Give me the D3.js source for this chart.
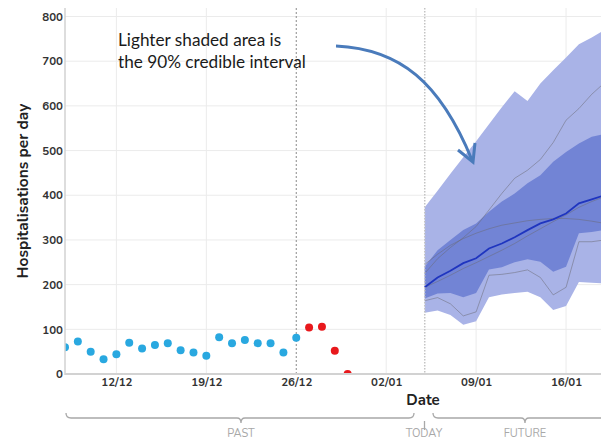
<!DOCTYPE html>
<html>
<head>
<meta charset="utf-8">
<script src="https://cdn.jsdelivr.net/npm/d3@7"></script>
<style>
  html, body { margin: 0; padding: 0; background: #fff; }
  svg { display: block; }
</style>
</head>
<body>
<svg id="chart" width="601" height="441"></svg>
<script>
// ---------------- DATA ----------------
const pastDates = ["2021-12-08","2021-12-09","2021-12-10","2021-12-11","2021-12-12","2021-12-13","2021-12-14",
  "2021-12-15","2021-12-16","2021-12-17","2021-12-18","2021-12-19","2021-12-20","2021-12-21","2021-12-22",
  "2021-12-23","2021-12-24","2021-12-25","2021-12-26"];
const pastValues = [60, 73, 50, 33, 44, 70, 57, 65, 69, 53, 48, 41, 82, 69, 76, 69, 69, 48, 81];

const recentDates = ["2021-12-27","2021-12-28","2021-12-29","2021-12-30"];
const recentValues = [104, 106, 52, 0];

const forecastDates = ["2022-01-05","2022-01-06","2022-01-07","2022-01-08","2022-01-09","2022-01-10","2022-01-11",
  "2022-01-12","2022-01-13","2022-01-14","2022-01-15","2022-01-16","2022-01-17","2022-01-18","2022-01-19"];
const upper90 = [373, 410, 448, 485, 521, 559, 597, 633, 611, 650, 680, 708, 738, 753, 770];
const lower90 = [137, 142, 132, 110, 118, 172, 178, 181, 184, 172, 143, 152, 206, 204, 203];
const upper50 = [240, 277, 300, 322, 337, 363, 386, 404, 427, 445, 475, 497, 516, 531, 537];
const lower50 = [169, 180, 181, 172, 181, 234, 239, 250, 257, 251, 229, 240, 315, 318, 322];
const median  = [194, 216, 231, 248, 259, 281, 292, 306, 322, 337, 346, 359, 382, 391, 400];
const sampleA = [225, 258, 283, 305, 330, 367, 404, 438, 456, 480, 518, 568, 594, 626, 652];
const sampleB = [245, 268, 288, 303, 315, 325, 333, 338, 343, 346, 348, 348, 346, 342, 337];
const sampleC = [194, 207, 221, 236, 249, 263, 277, 292, 309, 325, 341, 356, 373, 386, 397];
const sampleD = [164, 171, 157, 130, 139, 221, 223, 227, 233, 216, 177, 194, 296, 296, 300];

const yTicks = [0, 100, 200, 300, 400, 500, 600, 700, 800];
const xTickDates = ["2021-12-12","2021-12-19","2021-12-26","2022-01-02","2022-01-09","2022-01-16"];
const dataCutDate = "2021-12-26";
const todayDate = "2022-01-05";
const domainDates = ["2021-12-08","2022-01-19"];

const annotationLines = ["Lighter shaded area is", "the 90% credible interval"];
const yLabel = "Hospitalisations per day";
const xLabel = "Date";
const periodLabels = ["PAST", "TODAY", "FUTURE"];

// ---------------- SETUP ----------------
const parse = d3.timeParse("%Y-%m-%d");
const svg = d3.select("#chart");
const plotLeft = 65, plotRight = 601, plotTop = 8, plotBottom = 374;

const x = d3.scaleTime()
  .domain(domainDates.map(parse))
  .range([65, 604.6]);
const y = d3.scaleLinear().domain([0, 800]).range([374, 16.5]);

const tickFont = "Nunito, Lato, 'Open Sans', sans-serif";

// clip
svg.append("defs").append("clipPath").attr("id", "plotclip")
  .append("rect").attr("x", plotLeft).attr("y", plotTop)
  .attr("width", plotRight - plotLeft).attr("height", plotBottom - plotTop);

// grid
const grid = svg.append("g");
grid.selectAll("line.h").data(yTicks.filter(v => v > 0)).join("line")
  .attr("x1", plotLeft).attr("x2", plotRight)
  .attr("y1", d => y(d)).attr("y2", d => y(d))
  .attr("stroke", "#ebebeb").attr("stroke-width", 1);
grid.selectAll("line.v").data(xTickDates.filter(d => d !== dataCutDate)).join("line")
  .attr("x1", d => x(parse(d))).attr("x2", d => x(parse(d)))
  .attr("y1", plotTop).attr("y2", plotBottom)
  .attr("stroke", "#ebebeb").attr("stroke-width", 1);

// forecast
const fData = forecastDates.map((d, i) => ({
  date: parse(d), u90: upper90[i], l90: lower90[i], u50: upper50[i], l50: lower50[i],
  med: median[i], a: sampleA[i], b: sampleB[i], c: sampleC[i], dd: sampleD[i]
}));
const fg = svg.append("g").attr("clip-path", "url(#plotclip)");
fg.append("path").datum(fData)
  .attr("d", d3.area().x(d => x(d.date)).y0(d => y(d.l90)).y1(d => y(d.u90)))
  .attr("fill", "#a9b3e7");
fg.append("path").datum(fData)
  .attr("d", d3.area().x(d => x(d.date)).y0(d => y(d.l50)).y1(d => y(d.u50)))
  .attr("fill", "#7284d5");
["a", "b", "c", "dd"].forEach(k => {
  fg.append("path").datum(fData)
    .attr("d", d3.line().x(d => x(d.date)).y(d => y(d[k])))
    .attr("fill", "none").attr("stroke", "rgba(105,105,115,0.5)").attr("stroke-width", 1);
});
fg.append("path").datum(fData)
  .attr("d", d3.line().x(d => x(d.date)).y(d => y(d.med)))
  .attr("fill", "none").attr("stroke", "#1f35bf").attr("stroke-width", 1.8);

// vertical reference lines
svg.append("line")
  .attr("x1", x(parse(dataCutDate))).attr("x2", x(parse(dataCutDate)))
  .attr("y1", plotTop).attr("y2", plotBottom)
  .attr("stroke", "#8a8a8a").attr("stroke-width", 1).attr("stroke-dasharray", "2,2");
svg.append("line")
  .attr("x1", x(parse(todayDate))).attr("x2", x(parse(todayDate)))
  .attr("y1", plotTop).attr("y2", plotBottom)
  .attr("stroke", "#c4c4c4").attr("stroke-width", 1.5).attr("stroke-dasharray", "1.5,1.5");

// points
const pg = svg.append("g").attr("clip-path", "url(#plotclip)");
pg.selectAll("circle.past").data(pastDates.map((d, i) => ({ date: parse(d), v: pastValues[i] })))
  .join("circle").attr("cx", d => x(d.date)).attr("cy", d => y(d.v)).attr("r", 4)
  .attr("fill", "#29a8e0");
pg.selectAll("circle.recent").data(recentDates.map((d, i) => ({ date: parse(d), v: recentValues[i] })))
  .join("circle").attr("cx", d => x(d.date)).attr("cy", d => y(d.v)).attr("r", 4)
  .attr("fill", "#e8181c");

// axes lines
svg.append("line").attr("x1", plotLeft).attr("x2", plotLeft).attr("y1", plotTop).attr("y2", plotBottom + 1)
  .attr("stroke", "#d2d2d2").attr("stroke-width", 1.5);
svg.append("line").attr("x1", plotLeft).attr("x2", plotRight).attr("y1", plotBottom).attr("y2", plotBottom)
  .attr("stroke", "#d2d2d2").attr("stroke-width", 2);

// y axis
const yAxis = svg.append("g").attr("transform", `translate(${plotLeft - 2},0)`)
  .call(d3.axisLeft(y).tickValues(yTicks).tickSize(0).tickPadding(0).tickFormat(d3.format("d")));
yAxis.select(".domain").remove();
yAxis.selectAll("text").attr("font-family", tickFont).attr("font-weight", 700)
  .attr("font-size", 11.5).attr("fill", "#333");

// x axis
const xAxis = svg.append("g").attr("transform", `translate(0,${plotBottom + 3.5})`)
  .call(d3.axisBottom(x).tickValues(xTickDates.map(parse)).tickSize(0).tickPadding(0)
    .tickFormat(d3.timeFormat("%d/%m")));
xAxis.select(".domain").remove();
xAxis.selectAll("text").attr("font-family", tickFont).attr("font-weight", 700)
  .attr("font-size", 11.5).attr("fill", "#333");

// axis titles
svg.append("text").attr("transform", "translate(28,191) rotate(-90)")
  .attr("text-anchor", "middle").attr("font-family", tickFont).attr("font-weight", 700)
  .attr("font-size", 15.5).attr("fill", "#222").text(yLabel);
svg.append("text").attr("x", 423).attr("y", 405).attr("text-anchor", "middle")
  .attr("font-family", tickFont).attr("font-weight", 700).attr("font-size", 15)
  .attr("fill", "#222").text(xLabel);

// period brackets
const br = svg.append("g").attr("fill", "none").attr("stroke", "#a8a8a8").attr("stroke-width", 1.3);
br.append("path").attr("d", "M66,413 Q66,418 71,418 L237,418 Q241,418 241,423 Q241,418 245,418 L409,418 Q414,418 414,413");
br.append("path").attr("d", "M433,413 Q433,418 438,418 L521,418 Q525,418 525,423 Q525,418 529,418 L605,418");
br.append("line").attr("x1", 424.5).attr("x2", 424.5).attr("y1", 421).attr("y2", 430);
const pl = svg.append("g").attr("font-family", tickFont).attr("font-size", 11)
  .attr("fill", "#a8a8a8").attr("text-anchor", "middle");
pl.append("text").attr("x", 241).attr("y", 437).text(periodLabels[0]);
pl.append("text").attr("x", 424).attr("y", 437).text(periodLabels[1]);
pl.append("text").attr("x", 525).attr("y", 437).text(periodLabels[2]);

// annotation
const ann = svg.append("g").attr("font-family", "Lato, 'Open Sans', sans-serif")
  .attr("font-size", 16).attr("fill", "#1a1a1a");
const t1 = ann.append("text").attr("x", 118).attr("y", 46).text(annotationLines[0]);
const t2 = ann.append("text").attr("x", 118).attr("y", 68).text(annotationLines[1]);
const w2 = t2.node().getComputedTextLength();
const fs = 16 * 188 / w2;
ann.attr("font-size", fs);

svg.append("path").attr("d", "M336,46 C400,49 440,82 472,160")
  .attr("fill", "none").attr("stroke", "#4a7bbb").attr("stroke-width", 3);
svg.append("path").attr("d", "M458,150 L473,162 L475,143")
  .attr("fill", "none").attr("stroke", "#4a7bbb").attr("stroke-width", 3)
  .attr("stroke-linejoin", "miter");
</script>
</body>
</html>
